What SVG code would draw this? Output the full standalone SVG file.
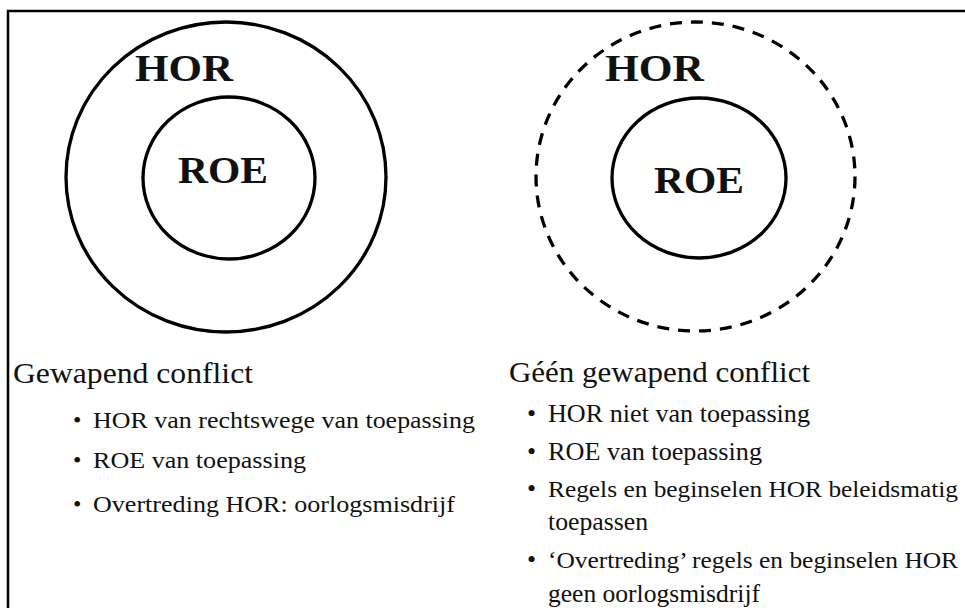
<svg xmlns="http://www.w3.org/2000/svg" width="965" height="608" viewBox="0 0 965 608">
  <style>
    .ring { fill: none; stroke: #000; stroke-width: 3.3; }
    .dash { stroke-dasharray: 12 9; }
    .lbl { font-family: "Liberation Serif", "DejaVu Serif", serif; font-weight: bold; font-size: 37px; fill: #111; }
    .txt { font-family: "Liberation Serif", "Times New Roman", serif; fill: #111; }
    .head { font-size: 30px; }
    .item { font-size: 24px; }
    .item2 { font-size: 26px; }
    .long { font-size: 24px; }
  </style>
  <rect width="965" height="608" fill="#fff"/>
  <!-- frame: top and left edges -->
  <path d="M8,608 V11 H965" fill="none" stroke="#000" stroke-width="2.5"/>

  <!-- armed conflict: HOR fully applies -->
  <g id="hor-left">
    <ellipse class="ring" cx="226" cy="177" rx="160" ry="155"/>
    <text class="lbl" x="135" y="81" textLength="98" lengthAdjust="spacingAndGlyphs">HOR</text>
  </g>
  <g id="roe-left">
    <ellipse class="ring" cx="229" cy="178" rx="86" ry="81"/>
    <text class="lbl" x="178" y="183" textLength="90" lengthAdjust="spacingAndGlyphs">ROE</text>
  </g>

  <!-- no armed conflict: HOR applied as policy -->
  <g id="hor-right">
    <ellipse class="ring dash" cx="695.5" cy="176.5" rx="159.5" ry="154.5"/>
    <text class="lbl" x="605" y="81" textLength="99" lengthAdjust="spacingAndGlyphs">HOR</text>
  </g>
  <g id="roe-right">
    <ellipse class="ring" cx="699" cy="178" rx="87" ry="80"/>
    <text class="lbl" x="654" y="193" textLength="90" lengthAdjust="spacingAndGlyphs">ROE</text>
  </g>

  <g id="list-left" class="txt">
    <text class="head" x="13" y="383" textLength="240" lengthAdjust="spacingAndGlyphs">Gewapend conflict</text>
    <text class="item" x="73" y="428">•</text>
    <text class="item" x="93" y="428" textLength="382" lengthAdjust="spacingAndGlyphs">HOR van rechtswege van toepassing</text>
    <text class="item" x="73" y="468">•</text>
    <text class="item" x="93" y="468" textLength="213" lengthAdjust="spacingAndGlyphs">ROE van toepassing</text>
    <text class="item" x="73" y="512">•</text>
    <text class="item" x="93" y="512" textLength="362" lengthAdjust="spacingAndGlyphs">Overtreding HOR: oorlogsmisdrijf</text>
  </g>

  <g id="list-right" class="txt">
    <text class="head" x="509" y="382" textLength="301" lengthAdjust="spacingAndGlyphs">Géén gewapend conflict</text>
    <text class="item2" x="527" y="422">•</text>
    <text class="item2" x="548" y="422" textLength="262" lengthAdjust="spacingAndGlyphs">HOR niet van toepassing</text>
    <text class="item2" x="527" y="460">•</text>
    <text class="item2" x="548" y="460" textLength="214" lengthAdjust="spacingAndGlyphs">ROE van toepassing</text>
    <text class="item2" x="527" y="497">•</text>
    <text class="long" x="548" y="497" textLength="410" lengthAdjust="spacingAndGlyphs">Regels en beginselen HOR beleidsmatig</text>
    <text class="item2" x="548" y="530" textLength="100" lengthAdjust="spacingAndGlyphs">toepassen</text>
    <text class="item2" x="527" y="568">•</text>
    <text class="long" x="548" y="568" textLength="410" lengthAdjust="spacingAndGlyphs">‘Overtreding’ regels en beginselen HOR</text>
    <text class="item2" x="548" y="602" textLength="212" lengthAdjust="spacingAndGlyphs">geen oorlogsmisdrijf</text>
  </g>
</svg>
